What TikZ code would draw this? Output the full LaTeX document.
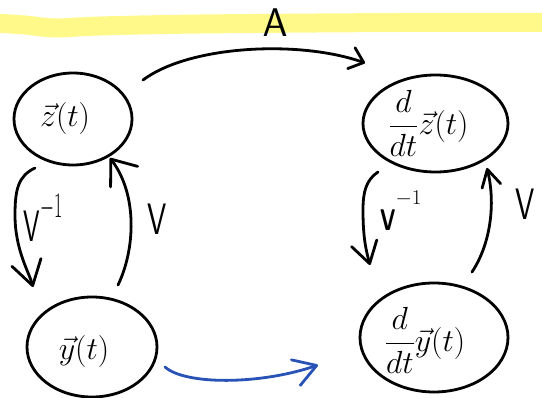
\RequirePackage{fix-cm}
\documentclass[tikz,border=0pt]{standalone}
\usetikzlibrary{shapes.geometric,arrows.meta}
\definecolor{highlight}{HTML}{FFF98A}
\definecolor{penblue}{HTML}{2852B5}

% a tall, narrow V with a raised "-1" written after it
\newcommand{\invV}[5]{%
  \scalebox{#2}[1]{\fontsize{#1}{#1}\selectfont$\mathsf{V}$}%
  \raisebox{#4}{\scalebox{#5}[1]{\fontsize{#3}{#3}\selectfont$-$1}}}

\begin{document}
\begin{tikzpicture}[x=1pt,y=-1pt,
  ink/.style={line width=2.8pt, line cap=round, line join=round},
  state/.style={ellipse, draw, ink, inner sep=0pt, outer sep=0pt,
    font=\fontsize{32}{36}\selectfont},
  link/.style 2 args={ink, -{Straight Barb[round,length=#1,width=#2]}},
  tag/.style={inner sep=0pt}
]
\useasboundingbox (0,0) rectangle (542,398);

% highlighter stroke across the top
\draw[highlight, line width=19pt]
  plot[smooth] coordinates {(-6,23) (25,25) (55,28) (100,26) (200,24) (400,22.5) (548,22.5)};

% states
\node[state, minimum width=118pt, minimum height=92pt] (z) at (73,119)
  {$\vec z(t)$\hspace*{16pt}};
\node[state, minimum width=145pt, minimum height=97pt] (dz) at (435.5,123.5)
  {$\displaystyle\frac{d}{dt}\vec z(t)$\hspace*{14pt}};
\node[state, minimum width=130pt, minimum height=100pt] (y) at (92,347)
  {\raisebox{-5pt}[\height][\depth]{$\vec y(t)$}\hspace*{16pt}};
\node[state, minimum width=148pt, minimum height=109pt] (dy) at (434,337.5)
  {\raisebox{-3pt}[\height][\depth]{$\displaystyle\frac{d}{dt}\vec y(t)$}\hspace*{18pt}};

% labels
\node[tag] (lA) at (275,23) {\fontsize{40}{44}\selectfont$\mathsf{A}$};
\node[tag, anchor=base west] (lVinvL) at (23,242) {\invV{44}{0.6}{36}{24pt}{0.5}};
\node[tag] (lVL) at (157,219)
  {\scalebox{0.7}[1]{\fontsize{44}{48}\selectfont$\mathsf{V}$}};
\node[tag, anchor=base west] (lVinvR) at (380,231)
  {\scalebox{0.7}[1]{\fontsize{30}{30}\sffamily\bfseries V}%
   \raisebox{26pt}{\fontsize{21}{21}\selectfont$-$1}};
\node[tag] (lVR) at (525,204)
  {\scalebox{0.7}[1]{\fontsize{44}{48}\selectfont$\mathsf{V}$}};

% A : z -> dz/dt
\draw[link={13pt}{22pt}] ([xshift=11pt,yshift=39pt]z.east)
  .. controls (190,45) and (300,40) .. ([xshift=-70.5pt,yshift=12pt]dz.north);

% V^{-1} : z -> y
\draw[link={24pt}{30pt}] ([xshift=-38pt,yshift=-3pt]z.south)
  .. controls (18,176) and (15,190) .. (15,215)
  .. controls (15,250) and (29,272) .. ([xshift=-59pt,yshift=10pt]y.north);

% V : y -> z
\draw[link={22pt}{34pt}] ([xshift=26pt,yshift=12pt]y.north)
  .. controls (135,250) and (138,195) .. ([xshift=37pt,yshift=7pt]z.south);

% V^{-1} : dz/dt -> dy/dt
\draw[link={21pt}{26pt}] ([xshift=-57.5pt]dz.south)
  .. controls (366,180) and (363,192) .. (363,210)
  .. controls (363,238) and (366,250) .. ([xshift=-64pt,yshift=18pt]dy.north);

% V : dy/dt -> dz/dt
\draw[link={17pt}{19pt}] ([xshift=38pt,yshift=11pt]dy.north)
  .. controls (490,245) and (496,205) .. ([xshift=51.5pt,yshift=4pt]dz.south);

% y -> dy/dt
\draw[link={22pt}{27pt}, penblue] ([xshift=8pt,yshift=-20pt]y.east)
  .. controls (185,385) and (260,385) .. ([xshift=-42pt,yshift=-27.5pt]dy.west);
\end{tikzpicture}
\end{document}
